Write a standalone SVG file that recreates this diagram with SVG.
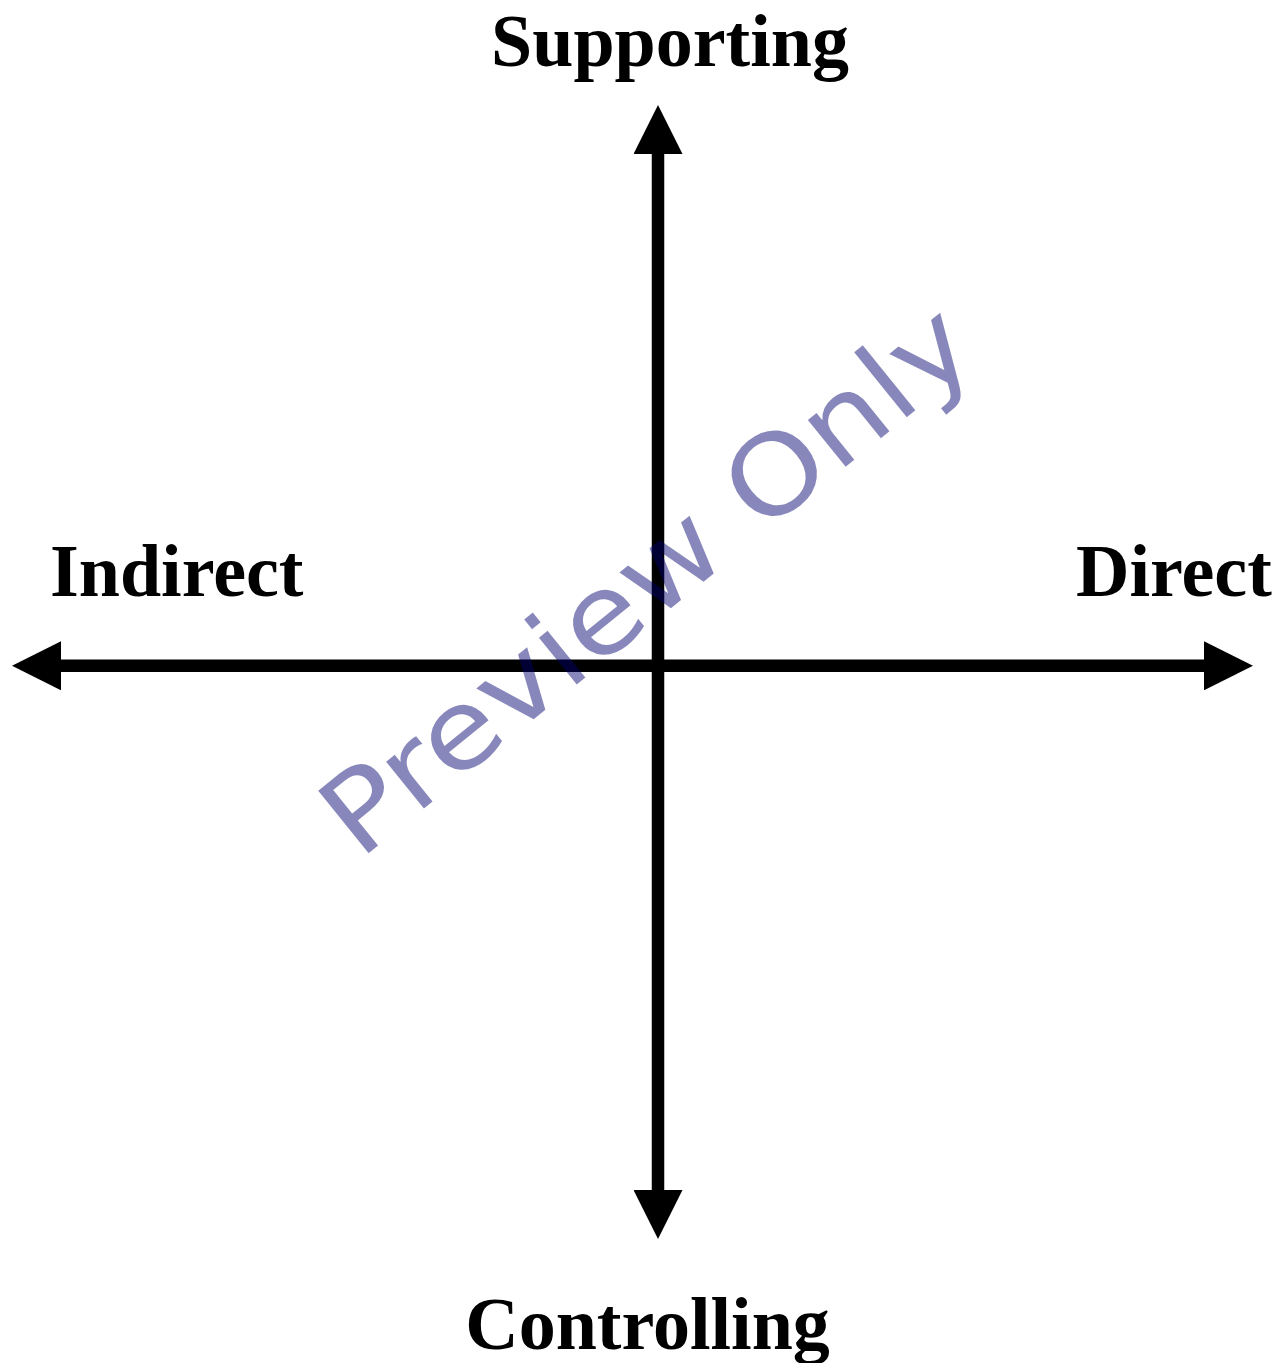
<svg xmlns="http://www.w3.org/2000/svg" width="1287" height="1363" viewBox="0 0 1287 1363">
  <style>
    .lbl { font-family: "Liberation Serif", "Times New Roman", serif; font-weight: bold; font-size: 74px; fill: #000; }
    .axis { stroke: #000; stroke-width: 12.5; fill: none; }
    .wm { font-family: "DejaVu Sans", "Liberation Sans", sans-serif; font-size: 110px; fill: rgb(0,0,110); fill-opacity: 0.47; }
  </style>
  <defs>
    <marker id="head" viewBox="0 0 49 49" refX="1" refY="24.5" markerWidth="49" markerHeight="49" markerUnits="userSpaceOnUse" orient="auto-start-reverse">
      <path d="M0,0 L49,24.5 L0,49 Z" fill="#000"/>
    </marker>
  </defs>
  <rect width="1287" height="1363" fill="#fff"/>
  <g id="connectors">
    <line class="axis" x1="658" y1="153" x2="658" y2="1191" marker-start="url(#head)" marker-end="url(#head)"/>
    <line class="axis" x1="60" y1="665.8" x2="1205" y2="665.8" marker-start="url(#head)" marker-end="url(#head)"/>
  </g>
  <g id="node-supporting"><text class="lbl" x="670" y="66" text-anchor="middle">Supporting</text></g>
  <g id="node-indirect"><text class="lbl" x="50" y="596">Indirect</text></g>
  <g id="node-direct"><text class="lbl" x="1076" y="596">Direct</text></g>
  <g id="node-controlling"><text class="lbl" x="647.5" y="1349" text-anchor="middle">Controlling</text></g>
  <g id="watermark">
    <text class="wm" x="0" y="0" text-anchor="middle" textLength="800" lengthAdjust="spacingAndGlyphs" transform="translate(670,609) rotate(-39)">Preview Only</text>
  </g>
</svg>
